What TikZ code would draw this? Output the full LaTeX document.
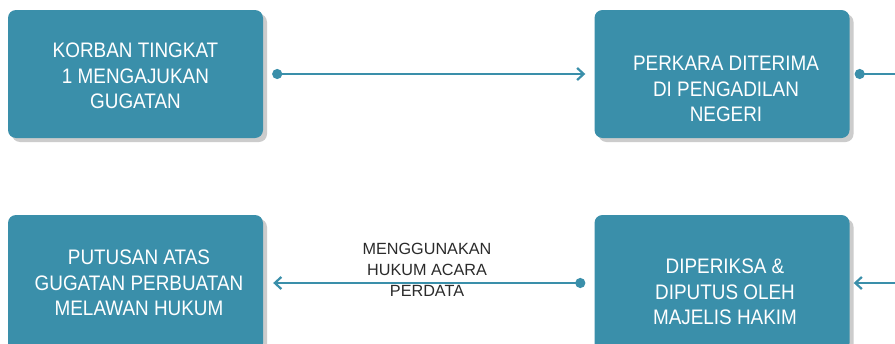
\documentclass[tikz,border=0pt]{standalone}
\usepackage{fontspec}
\setmainfont{Liberation Sans}
\newfontfamily\boxfont[FakeStretch=0.9]{Liberation Sans}
\usetikzlibrary{arrows.meta,shadows}
\definecolor{teal}{HTML}{3A8FAA}
\definecolor{shade}{HTML}{CCCCCC}
\definecolor{labelgray}{HTML}{2B2B2B}
\begin{document}
\begin{tikzpicture}[x=1pt,y=-1pt,
  stepbox/.style={draw=none, fill=teal, rounded corners=8pt,
    minimum width=255pt, minimum height=128pt, inner sep=0pt,
    drop shadow={shadow xshift=4pt, shadow yshift=-4pt, fill=shade, opacity=1}},
  tallbox/.style={stepbox, minimum height=136pt},
  boxtext/.style={text=white, align=center, font=\boxfont\fontsize{21pt}{25.5pt}\selectfont},
  conn/.style={draw=teal, line width=2.2pt},
  dotarrow/.style={conn, {Circle[length=10pt]}-{Straight Barb[length=6.5pt,width=12pt,line width=2.2pt]}},
  dotline/.style={conn, {Circle[length=10pt]}-},
  plainarrow/.style={conn, -{Straight Barb[length=6.5pt,width=12pt,line width=2.2pt]}},
  lbl/.style={text=labelgray, align=center, font=\fontsize{16.2pt}{21pt}\selectfont}
]
\useasboundingbox (0,0) rectangle (895,343);
\fill[white] (0,0) rectangle (895,343);

\node[stepbox] (A) at (135.5,74) {};
\node[stepbox] (B) at (722,74) {};
\node[tallbox] (C) at (135.5,283) {};
\node[tallbox] (D) at (722,283) {};

\node[boxtext] (ta) at (135.5,76) {KORBAN TINGKAT\\1 MENGAJUKAN\\GUGATAN};
\node[boxtext] (tb) at (726,89) {PERKARA DITERIMA\\DI PENGADILAN\\NEGERI};
\node[boxtext] (tc) at (139,283) {PUTUSAN ATAS\\GUGATAN PERBUATAN\\MELAWAN HUKUM};
\node[boxtext] (td) at (725,292) {DIPERIKSA \&\\DIPUTUS OLEH\\MAJELIS HAKIM};

\coordinate (outR) at (895,74);
\coordinate (inR) at (895,283);

\draw[dotarrow, shorten <=9pt, shorten >=9pt] (A.east) -- (B.west);
\draw[dotline, shorten <=5pt] (B.east) -- (outR);
\draw[plainarrow, shorten >=4pt] (inR) -- (D.east);
\draw[dotarrow, shorten <=9pt, shorten >=10pt] (D.west) -- (C.east);

\node[lbl] (lab) at (427,270) {MENGGUNAKAN\\HUKUM ACARA\\PERDATA};
\end{tikzpicture}
\end{document}
